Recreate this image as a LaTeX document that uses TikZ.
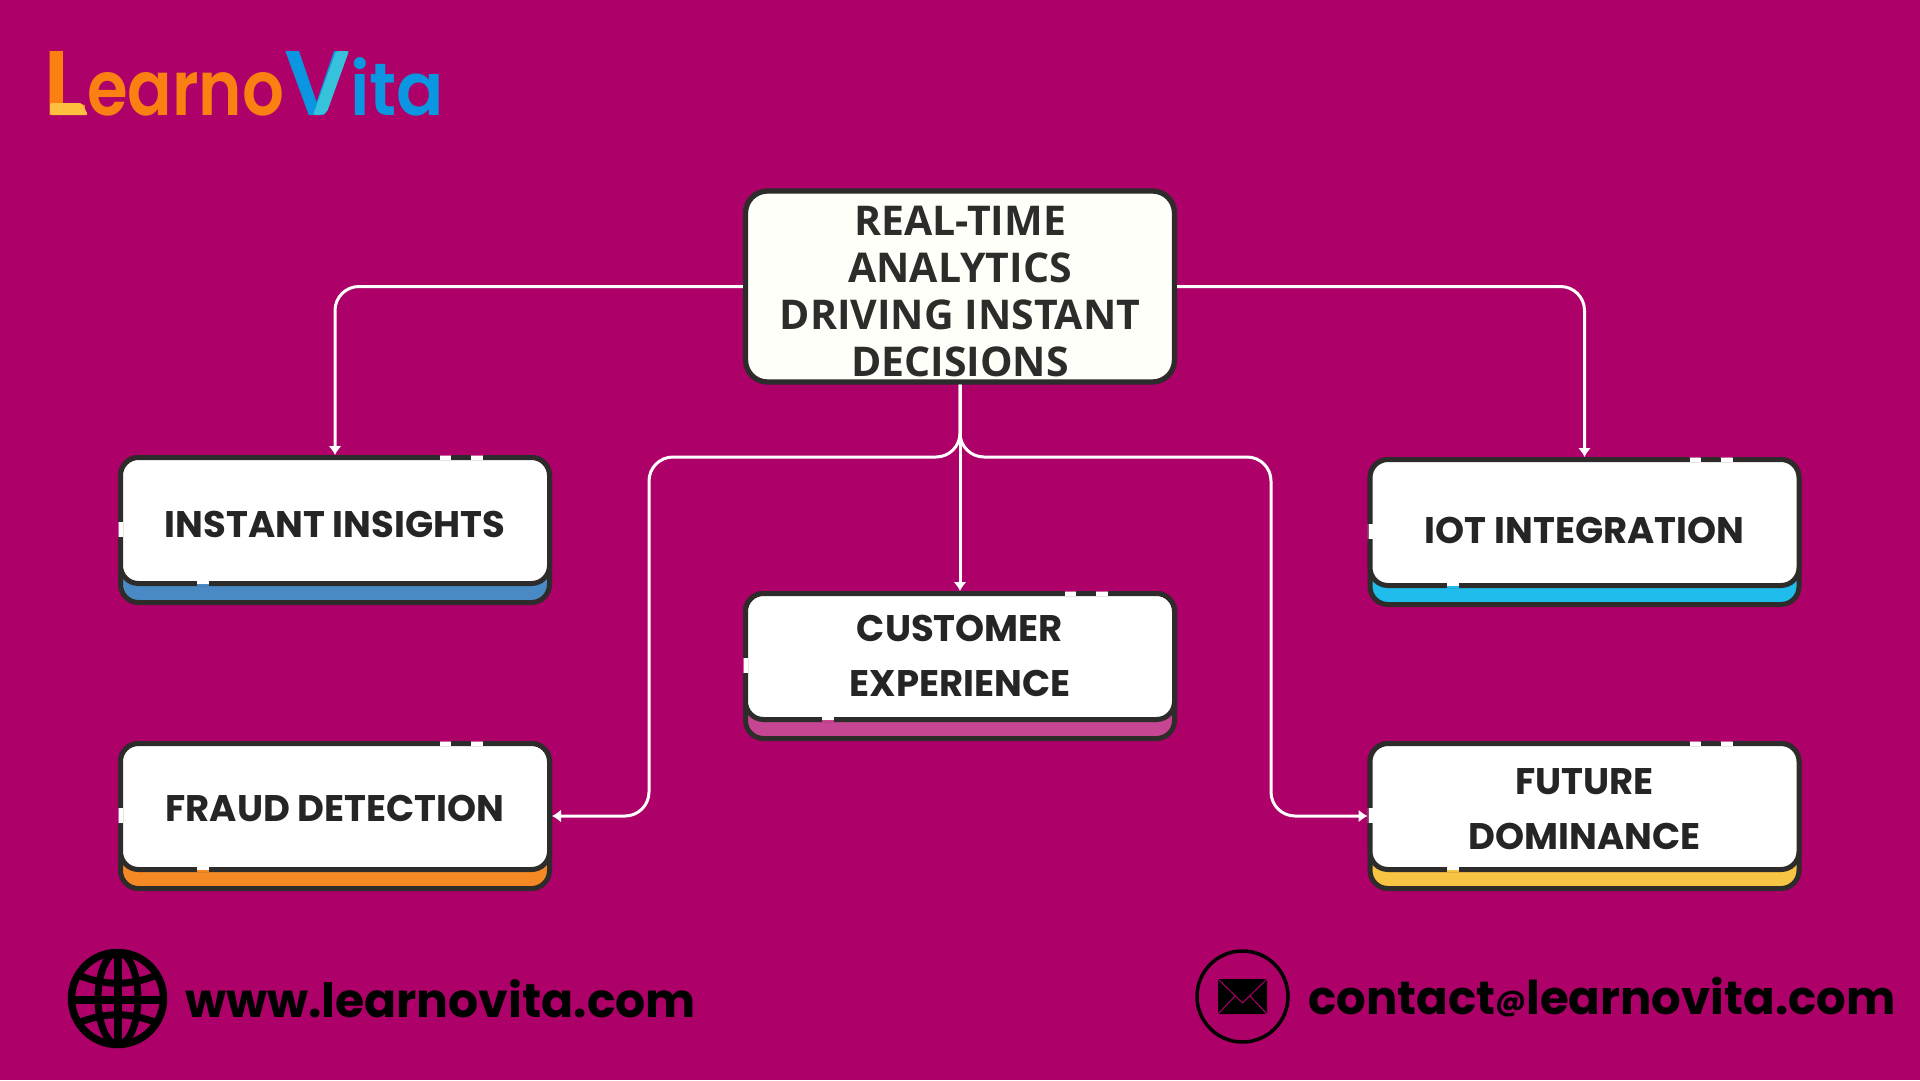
\documentclass[tikz,border=0pt]{standalone}
\usepackage{fontspec}
\usepackage{graphicx}
\usetikzlibrary{arrows.meta,calc}
\setmainfont{Poppins}
\newfontfamily\popsemi{Poppins SemiBold}
\newfontfamily\popbold{Poppins}[BoldFont=* Bold]
\newfontfamily\opensans{Open Sans}[BoldFont=* Bold]
\definecolor{bgmag}{HTML}{AD0068}
\definecolor{ink}{HTML}{2E2B2B}
\definecolor{txtink}{HTML}{252525}
\definecolor{cblue}{HTML}{4A8AC4}
\definecolor{ccyan}{HTML}{1FBCEC}
\definecolor{cpink}{HTML}{C64694}
\definecolor{corange}{HTML}{F58A25}
\definecolor{cyellow}{HTML}{F7C444}
\definecolor{logoor}{HTML}{FB8012}
\definecolor{logoye}{HTML}{FFC040}
\definecolor{logobl}{HTML}{0A96E0}
\definecolor{logocy}{HTML}{36C2DA}
\tikzset{
  cardouter/.style={draw=ink,line width=5pt,rounded corners=18pt,minimum width=429pt,minimum height=145pt,inner sep=0pt},
  cardinner/.style={draw=ink,line width=5pt,fill=white,rounded corners=18pt,minimum width=429pt,minimum height=126pt,inner sep=0pt,text=txtink,align=center,font=\popbold\bfseries\fontsize{37}{55}\selectfont},
  mainbox/.style={draw=ink,line width=5.3pt,fill=white!98!yellow,rounded corners=22pt,minimum width=429pt,minimum height=191pt,inner sep=0pt,text=ink,align=center,font=\opensans\bfseries\fontsize{41}{47}\selectfont},
  conn/.style={draw=white,line width=3pt,rounded corners=24pt,-{Latex[width=13pt,length=9pt]}},
  foot/.style={inner sep=0pt,anchor=base west,text=black,font=\popbold\bfseries\fontsize{47.3}{50}\selectfont},
  logotxt/.style={inner sep=0pt,anchor=base west,font=\popsemi\fontsize{92}{92}\selectfont},
}
\newcommand{\shifted}[2]{\raisebox{-#1pt}[\height][\depth]{\begin{tabular}{@{}c@{}}#2\end{tabular}}}
\newcommand{\cardbox}[6]{%
  \node[cardouter,fill=#4] (#1) at (#2,#3) {};
  \node[cardinner] (#1-in) at (#2,#3-9.5) {\shifted{#6}{#5}};
  \begin{scope}[shift={(#2,#3)}]
    \fill[bgmag!60!white] (105,-75) rectangle (116,-74) (136,-75) rectangle (148,-74) (-217,-8) rectangle (-216,7);
    \fill[white] (105,-74) rectangle (116,-70);
    \fill[white] (136,-74) rectangle (148,-70);
    \fill[white] (-216,-8) rectangle (-212,7);
    \fill[white] (-138,51) rectangle (-126,53.5);
    \fill[#4] (-138,53.5) rectangle (-126,56);
  \end{scope}
}
\begin{document}
\begin{tikzpicture}[x=1pt,y=-1pt]
\useasboundingbox (0,0) rectangle (1920,1080);
\fill[bgmag] (0,0) rectangle (1920,1080);
% logo
\node[logotxt] (logo) at (43,115) {\textcolor{logoor}{\resizebox{44pt}{64pt}{L}\resizebox{197pt}{43pt}{earno}}\textcolor{logobl}{\resizebox{65pt}{64pt}{V}\kern1pt\resizebox{94pt}{58pt}{ita}}};
\fill[logoye,rounded corners=2pt] (50,103) -- (82,103) -- (88,115) -- (50,115) -- cycle;
\fill[logocy,rounded corners=2pt] (336,51) -- (349,51) -- (327,112) -- (322,115) -- (313,115) -- cycle;
% main
\node[mainbox] (main) at (960,286.5) {\shifted{10.5}{REAL-TIME\\ANALYTICS\\DRIVING INSTANT\\DECISIONS}};
% cards
\cardbox{instant}{335}{530}{cblue}{INSTANT INSIGHTS}{6}
\cardbox{iot}{1584.5}{532}{ccyan}{IOT INTEGRATION}{10}
\cardbox{customer}{960}{666}{cpink}{CUSTOMER\\EXPERIENCE}{1}
\cardbox{fraud}{335}{816}{corange}{FRAUD DETECTION}{4}
\cardbox{future}{1584.5}{816}{cyellow}{FUTURE\\DOMINANCE}{4}
% connectors
\coordinate (bl) at (960,457);
\draw[conn] (main.west) -| (instant.north);
\draw[conn] (main.east) -| (iot.north);
\draw[conn,rounded corners=0pt] (main.south) -- (customer.north);
\coordinate (lc) at (649,457);
\coordinate (ld) at (649,816);
\coordinate (rc) at (1271,457);
\coordinate (rd) at (1271,816);
\draw[conn] (main.south) -- (bl) -- (lc) -- (ld) -- (fraud.east);
\draw[conn] (main.south) -- (bl) -- (rc) -- (rd) -- (future.west);
% globe
\begin{scope}[line width=7.5pt,draw=black]
\draw (117.5,998.5) circle (46);
\draw (118,952) -- (118,1045);
\draw (71,1000) -- (164,1000);
\draw[line width=7pt] (118,998.5) ellipse (20 and 46);
\draw[line width=7pt] (78,975) .. controls (105,986) and (130,986) .. (157,975);
\draw[line width=7pt] (78,1023) .. controls (105,1012) and (130,1012) .. (157,1023);
\end{scope}
\node[foot] (web) at (185,1017) {www.learnovita.com};
% mail
\node[circle,draw=black,line width=3.5pt,minimum size=91pt,inner sep=0pt] (mailring) at (1242.5,996.5) {};
\fill[black,rounded corners=1pt] (1218,979) rectangle (1267,1014);
\draw[bgmag,line width=1pt] (1218,979) -- (1242.5,1003) -- (1267,979);
\draw[bgmag,line width=1pt] (1218,1014) -- (1235,996);
\draw[bgmag,line width=1pt] (1267,1014) -- (1250,996);
\node[foot,font=\popbold\bfseries\fontsize{46.6}{50}\selectfont] (mail) at (1308,1014) {contact\raisebox{4pt}{\fontsize{29}{29}\selectfont @}learnovita.com};
\end{tikzpicture}
\end{document}
